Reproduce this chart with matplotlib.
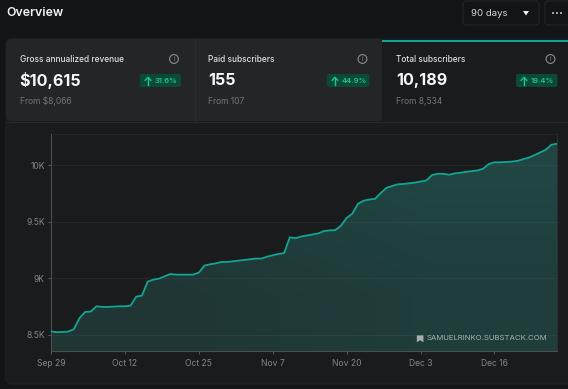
import numpy as np
import matplotlib
matplotlib.use("Agg")
import matplotlib.pyplot as plt
from matplotlib.patches import Rectangle, FancyBboxPatch, Circle, Polygon

plt.rcParams['font.family'] = ['Inter', 'DejaVu Sans']

# subscribers per day
subscribers = [8532, 8524, 8526, 8529, 8550, 8647, 8703, 8706, 8753, 8747,
               8747, 8750, 8753, 8753, 8759, 8838, 8847, 8970, 8988, 8997,
               9018, 9038, 9032, 9032, 9032, 9032, 9050, 9112, 9124, 9132,
               9144, 9144, 9150, 9156, 9162, 9168, 9174, 9174, 9191, 9203,
               9215, 9222, 9362, 9354, 9369, 9378, 9387, 9396, 9417, 9423,
               9426, 9464, 9533, 9571, 9658, 9685, 9696, 9702, 9753, 9798,
               9815, 9830, 9833, 9839, 9845, 9854, 9863, 9911, 9923, 9923,
               9914, 9926, 9932, 9940, 9946, 9952, 9967, 10009, 10024, 10024,
               10027, 10030, 10036, 10051, 10065, 10086, 10110, 10134, 10179, 10188]
tick_days = [0, 13, 26, 39, 52, 65, 78]
tick_labels = ["Sep 29", "Oct 12", "Oct 25", "Nov 7", "Nov 20", "Dec 3", "Dec 16"]
y_ticks = [8500, 9000, 9500, 10000]
y_labels = ["8.5K", "9K", "9.5K", "10K"]

card_titles = ["Gross annualized revenue", "Paid subscribers", "Total subscribers"]
card_values = ["$10,615", "155", "10,189"]
card_from = ["From $8,066", "From 107", "From 8,534"]
card_change = ["31.6%", "44.9%", "19.4%"]

BG = "#131416"
CARD = "#232526"
PANEL = "#1a1b1d"
TEAL = "#12a594"
GREEN = "#1fc77e"
BADGE = "#0b4a38"

fig = plt.figure(figsize=(5.68, 3.89), dpi=100, facecolor=BG)

# page layer in pixel coordinates
ui = fig.add_axes([0, 0, 1, 1])
ui.set_xlim(0, 568)
ui.set_ylim(389, 0)
ui.axis("off")

ui.add_patch(FancyBboxPatch((6, 39), 580, 345, boxstyle="round,pad=0,rounding_size=6",
                            fc=PANEL, ec="#202224", lw=0.8))
ui.add_patch(FancyBboxPatch((6, 39), 400, 82, boxstyle="round,pad=0,rounding_size=6",
                            fc=CARD, ec="none"))
ui.add_patch(Rectangle((382, 39), 186, 83, fc=PANEL, ec="none"))
ui.add_patch(Rectangle((382, 39.5), 186, 2.5, fc=TEAL, ec="none"))
ui.plot([194.5, 194.5], [39, 121], color="#2c2e2f", lw=0.7)
ui.plot([6, 568], [121.5, 121.5], color="#262829", lw=0.8)

ui.text(6, 13, "Overview", color="#f2f2f2", fontsize=8.9, fontweight="semibold", va="center")

# range selector and menu
ui.add_patch(FancyBboxPatch((463, 1), 76, 24, boxstyle="round,pad=0,rounding_size=4",
                            fc=BG, ec="#232527", lw=0.8))
ui.add_patch(FancyBboxPatch((545, 1), 40, 24, boxstyle="round,pad=0,rounding_size=4",
                            fc=BG, ec="#232527", lw=0.8))
ui.text(471, 13.5, "90 days", color="#d6d6d6", fontsize=6.9, va="center")
ui.add_patch(Polygon([[523, 11], [529, 11], [526, 15.5]], fc="#f0f0f0", ec="none"))
for dx in [553, 557, 561]:
    ui.add_patch(Circle((dx, 13), 0.9, fc="#f0f0f0", ec="none"))

# summary cards
text_x = [19.5, 208, 396]
info_x = [174, 362.5, 550.5]
badge_x = [140, 327, 516]
badge_w = [41, 42.5, 41.5]
for i in range(3):
    ui.text(text_x[i], 59.5, card_titles[i], color="#e0e0e0", fontsize=6.0, fontweight="medium", va="center")
    ui.text(text_x[i], 80.5, card_values[i], color="#f7f7f7", fontsize=11.6, fontweight="bold", va="center")
    ui.text(text_x[i], 101.5, card_from[i], color="#737577", fontsize=6.1, va="center")
    ui.add_patch(Circle((info_x[i], 59), 4.4, fc="none", ec="#8a8c8e", lw=0.8))
    ui.text(info_x[i], 59, "i", color="#8a8c8e", fontsize=4.6, ha="center", va="center")
    ui.add_patch(FancyBboxPatch((badge_x[i], 74), badge_w[i], 13, boxstyle="round,pad=0,rounding_size=2",
                                fc=BADGE, ec="none"))
    # up arrow
    ax0 = badge_x[i] + 8
    ui.plot([ax0, ax0], [84.5, 77.5], color=GREEN, lw=1.0)
    ui.plot([ax0 - 2.8, ax0, ax0 + 2.8], [80.3, 77.3, 80.3], color=GREEN, lw=1.0)
    ui.text(badge_x[i] + 15, 80.5, card_change[i], color=GREEN, fontsize=5.5, fontweight="semibold", va="center")

# chart
ax = fig.add_axes([51 / 568, (389 - 351) / 389, 506 / 568, 217 / 389], facecolor="none")
days = np.arange(len(subscribers))
ax.set_xlim(0, 89)
ax.set_ylim(8358, 10274)

# fill gets a little brighter towards the upper right
area = ax.fill_between(days, subscribers, 8358, color="none", lw=0, zorder=1)
shade = np.array([[0.0, 0.5], [0.5, 1.0]])
img = ax.imshow(shade, extent=[0, 89, 8358, 10274], origin="lower", aspect="auto", zorder=1,
                cmap=matplotlib.colors.LinearSegmentedColormap.from_list("fill", ["#1f3634", "#204542"]),
                interpolation="bilinear")
img.set_clip_path(area.get_paths()[0], transform=ax.transData)
ax.set_xlim(0, 89)
ax.set_ylim(8358, 10274)

ax.plot(days, subscribers, color=TEAL, lw=1.3, solid_joinstyle="round", zorder=3)

ax.set_yticks(y_ticks, y_labels)
ax.set_xticks(tick_days, tick_labels)
ax.grid(axis="y", color="#a0a8a8", alpha=0.08, lw=0.7, zorder=2)
ax.axhline(10274, color="#a0a8a8", alpha=0.08, lw=0.7)
ax.tick_params(axis="both", colors="#55585a", labelcolor="#838587", labelsize=6.2, length=2.5, width=0.7, pad=3)
ax.tick_params(axis="y", pad=2)
ax.spines["top"].set_visible(False)
for side in ["left", "bottom", "right"]:
    ax.spines[side].set_color("#4b4e50")
    ax.spines[side].set_linewidth(0.8)
ax.spines["right"].set_color("#2c2f30")

# watermark
ui.set_zorder(0)
ax.set_zorder(1)
ax.text(0.9805, 0.058, "SAMUELRINKO.SUBSTACK.COM", transform=ax.transAxes, color="#a9b0af",
        fontsize=5.6, ha="right", va="center")
ax.add_patch(Polygon([[0.723, 0.072], [0.736, 0.072], [0.736, 0.04], [0.7295, 0.05], [0.723, 0.04]],
                     transform=ax.transAxes, fc="#a9b0af", ec="none"))

fig.savefig("out.png", dpi=100, facecolor=BG)
